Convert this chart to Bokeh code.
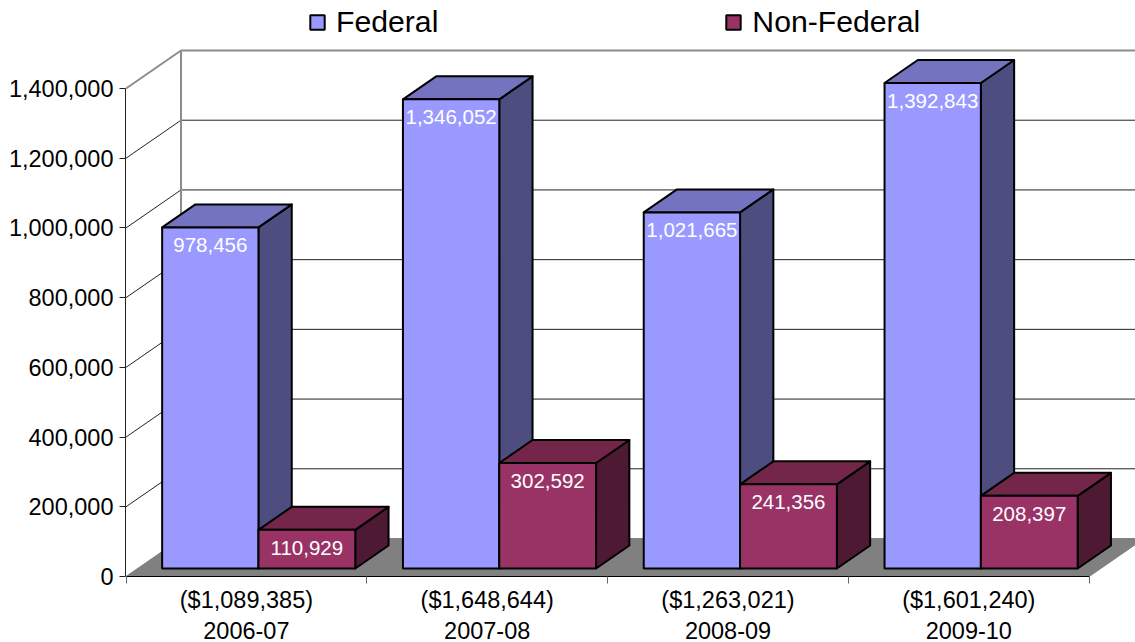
from bokeh.plotting import figure
from bokeh.models import (Range1d, LinearAxis, FixedTicker, NumeralTickFormatter, Legend, LegendItem)
from bokeh.core.properties import value
from bokeh.embed import file_html
from bokeh.resources import INLINE

years = ["2006-07", "2007-08", "2008-09", "2009-10"]
totals = ["($1,089,385)", "($1,648,644)", "($1,263,021)", "($1,601,240)"]
federal = [978456, 1346052, 1021665, 1392843]
non_federal = [110929, 302592, 241356, 208397]
y_ticks = [0, 200000, 400000, 600000, 800000, 1000000, 1200000, 1400000]
series_names = ["Federal", "Non-Federal"]

FONT = "Liberation Sans"
PX_X = 240.8      # pixels per category
PX_Y = 348.57e-6  # pixels per unit of value
DX = 55 / PX_X    # 3-D depth projection, in data units
DY = 38 / PX_Y
D0, D1 = 8 / 38, 31 / 38  # front and back of the bars as depth fractions
B0, B1, B2 = 0.102, 0.502, 0.904

p = figure(width=1135, height=642, output_backend="svg", toolbar_location=None,
           x_range=Range1d(-0.5 / PX_X, 1009.5 / PX_X), y_range=Range1d(0, 576 / PX_Y),
           x_axis_type=None, y_axis_type=None, min_border_left=125, min_border_right=0,
           min_border_top=0, min_border_bottom=66)
p.frame_width = 1010
p.frame_height = 576
p.outline_line_color = None
p.grid.visible = False
p.background_fill_color = "white"

XMAX = 4.3
TOP = y_ticks[-1]

# floor
p.patch([0, 4, 4 + DX, DX], [0, 0, DY, DY], fill_color="#808080", line_color="#808080", line_width=1)
# back wall grid lines and left wall lines
for t in y_ticks[1:-1]:
    p.line([DX, XMAX], [t + DY, t + DY], line_color="#222222", line_width=1)
    p.line([0, DX], [t, t + DY], line_color="#222222", line_width=1)
p.line([DX, XMAX], [TOP + DY, TOP + DY], line_color="#8c8c8c", line_width=2)
p.line([0, DX], [TOP, TOP + DY], line_color="#8c8c8c", line_width=2)
p.line([DX, DX], [DY, TOP + DY], line_color="#8c8c8c", line_width=2)


def draw_series(vals, left, right, front, topc, side):
    xs_top, ys_top, xs_side, ys_side = [], [], [], []
    lefts, rights, tops = [], [], []
    f = D0 * DX
    g = D1 * DX
    h = D0 * DY
    k = D1 * DY
    for i, v in enumerate(vals):
        a, b = i + left, i + right
        xs_top.append([a + f, b + f, b + g, a + g])
        ys_top.append([v + h, v + h, v + k, v + k])
        xs_side.append([b + f, b + g, b + g, b + f])
        ys_side.append([h, k, v + k, v + h])
        lefts.append(a + f)
        rights.append(b + f)
        tops.append(v + h)
    p.patches(xs_side, ys_side, fill_color=side, line_color="black", line_width=2, line_join="round")
    p.patches(xs_top, ys_top, fill_color=topc, line_color="black", line_width=2, line_join="round")
    r = p.quad(left=lefts, right=rights, top=tops, bottom=[h] * len(vals),
               fill_color=front, line_color="black", line_width=2)
    p.text(x=[(l + q) / 2 for l, q in zip(lefts, rights)], y=tops, text=[f"{v:,}" for v in vals],
           text_color="white", text_font=value(FONT), text_font_size="20.5px",
           text_align="center", text_baseline="middle", y_offset=18)
    return r


r1 = draw_series(federal, B0, B1, "#9999FF", "#7373BF", "#4D4D7F")
r2 = draw_series(non_federal, B1, B2, "#993366", "#732649", "#4D1933")

# axes
ya = LinearAxis(ticker=FixedTicker(ticks=y_ticks), formatter=NumeralTickFormatter(format="0,0"),
                bounds=(0, TOP), major_tick_in=0, major_tick_out=6, minor_tick_line_color=None,
                major_label_text_font=FONT, major_label_text_font_size="23.5px",
                major_label_text_color="black", major_label_standoff=6,
                axis_line_color="#222222", major_tick_line_color="#222222", axis_line_width=1)
p.add_layout(ya, "left")

xa = LinearAxis(ticker=FixedTicker(ticks=[i + 0.5 for i in range(4)], minor_ticks=[0, 1, 2, 3, 4]),
                major_label_overrides={i + 0.5: f"{totals[i]}\n{years[i]}" for i in range(4)},
                bounds=(0, 4), major_tick_in=0, major_tick_out=0, minor_tick_in=0, minor_tick_out=7,
                minor_tick_line_color="#666666", major_label_standoff=3,
                major_label_text_font=FONT, major_label_text_font_size="23.5px",
                major_label_text_color="black", axis_line_color="black", axis_line_width=1)
p.add_layout(xa, "below")

legend = Legend(items=[LegendItem(label=series_names[0], renderers=[r1]),
                       LegendItem(label=series_names[1], renderers=[r2])],
                orientation="horizontal", location=(183, 537), spacing=286,
                glyph_width=18, glyph_height=18, label_standoff=10, padding=0, margin=0,
                border_line_color=None, background_fill_alpha=0,
                label_text_font=FONT, label_text_font_size="30.2px", label_text_color="black")
p.add_layout(legend, "center")

open("out.html", "w").write(file_html(p, INLINE))
